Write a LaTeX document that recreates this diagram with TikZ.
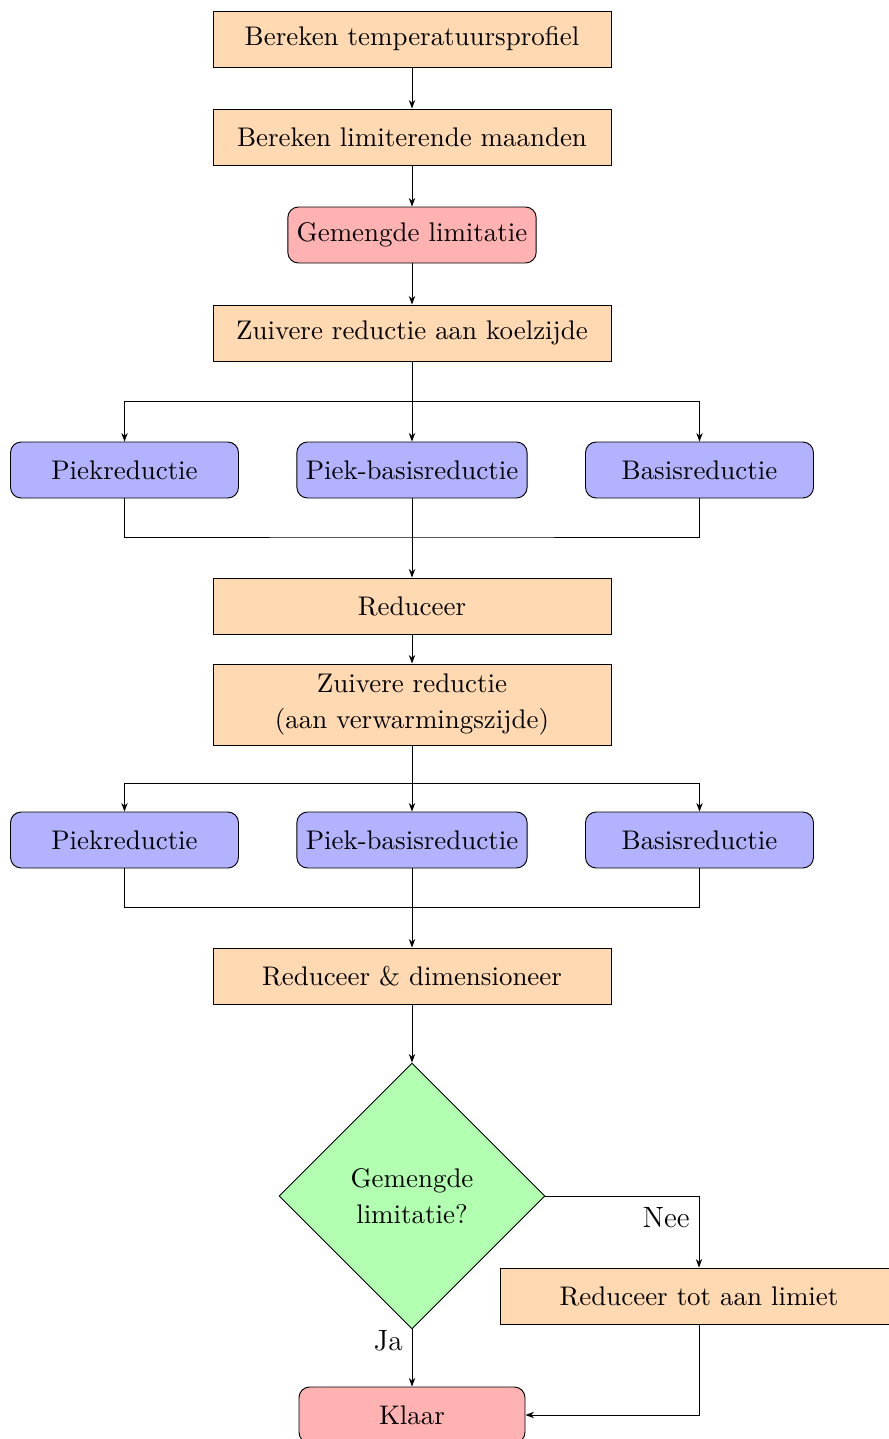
\documentclass[tikz,border=0pt]{standalone}
\usetikzlibrary{arrows.meta,shapes.geometric}
\begin{document}
\begin{tikzpicture}[x=0.375pt,y=-0.375pt, line width=0.35pt,
  every node/.style={font=\fontsize{10.1}{13.5}\selectfont},
  procbox/.style={draw, fill=orange!30, minimum width=149.25pt, minimum height=21pt, align=center},
  termbox/.style={draw, fill=red!30, rounded corners=4pt, minimum width=84.75pt, minimum height=21pt},
  optbox/.style={draw, fill=blue!30, rounded corners=4pt, minimum width=85.5pt, minimum height=21pt},
  decbox/.style={draw, fill=green!30, diamond, minimum width=99.75pt, minimum height=99.75pt, inner sep=0pt, align=center},
  arr/.style={-{Stealth[length=3.2pt,width=2.4pt]}},
  lbl/.style={font=\fontsize{11}{13}\selectfont}
]
\useasboundingbox (0,0) rectangle (888,1439);

% main column
\node[procbox] (temp) at (412,39) {Bereken temperatuursprofiel};
\node[procbox] (maand) at (412,137) {Bereken limiterende maanden};
\node[termbox] (gem) at (412,235) {Gemengde limitatie};
\node[procbox] (koel) at (412,333) {Zuivere reductie aan koelzijde};

% first set of reduction options
\node[optbox] (pa) at (124.5,470) {Piekreductie};
\node[optbox] (pba) at (412,470) {Piek-basisreductie};
\node[optbox] (ba) at (699.5,470) {Basisreductie};
\coordinate (sa) at (412,401);
\coordinate (ma) at (412,537);

\node[procbox] (red) at (412,606) {Reduceer};
\node[procbox, minimum height=30.4pt] (verw) at (412,704.5) {Zuivere reductie\\(aan verwarmingszijde)};

% second set of reduction options
\node[optbox] (pb) at (124.5,840) {Piekreductie};
\node[optbox] (pbb) at (412,840) {Piek-basisreductie};
\node[optbox] (bb) at (699.5,840) {Basisreductie};
\coordinate (sb) at (412,783);
\coordinate (mb) at (412,907);

\node[procbox] (dim) at (412,976) {Reduceer \& dimensioneer};
\node[decbox] (dec) at (412,1196) {Gemengde\\limitatie?};
\node[procbox] (lim) at (699,1296) {Reduceer tot aan limiet};
\node[termbox] (klaar) at (412,1415) {Klaar};

% connectors
\draw[arr] (temp) -- (maand);
\draw[arr] (maand) -- (gem);
\draw[arr] (gem) -- (koel);

\draw[arr] (koel) -- (pba);
\draw[arr] (sa) -| (pa);
\draw[arr] (sa) -| (ba);
\draw (pa) |- (ma) -| (ba);
\draw[arr] (pba) -- (red);

\draw[arr] (red) -- (verw);
\draw[arr] (verw) -- (pbb);
\draw[arr] (sb) -| (pb);
\draw[arr] (sb) -| (bb);
\draw (pb) |- (mb) -| (bb);
\draw[arr] (pbb) -- (dim);

\draw[arr] (dim) -- (dec);
\draw[arr] (dec.east) -| node[lbl, pos=0.65, left] {Nee} (lim);
\draw[arr] (dec.south) -- node[lbl, pos=0.2, left] {Ja} (klaar);
\draw[arr] (lim) |- (klaar);
\end{tikzpicture}
\end{document}
